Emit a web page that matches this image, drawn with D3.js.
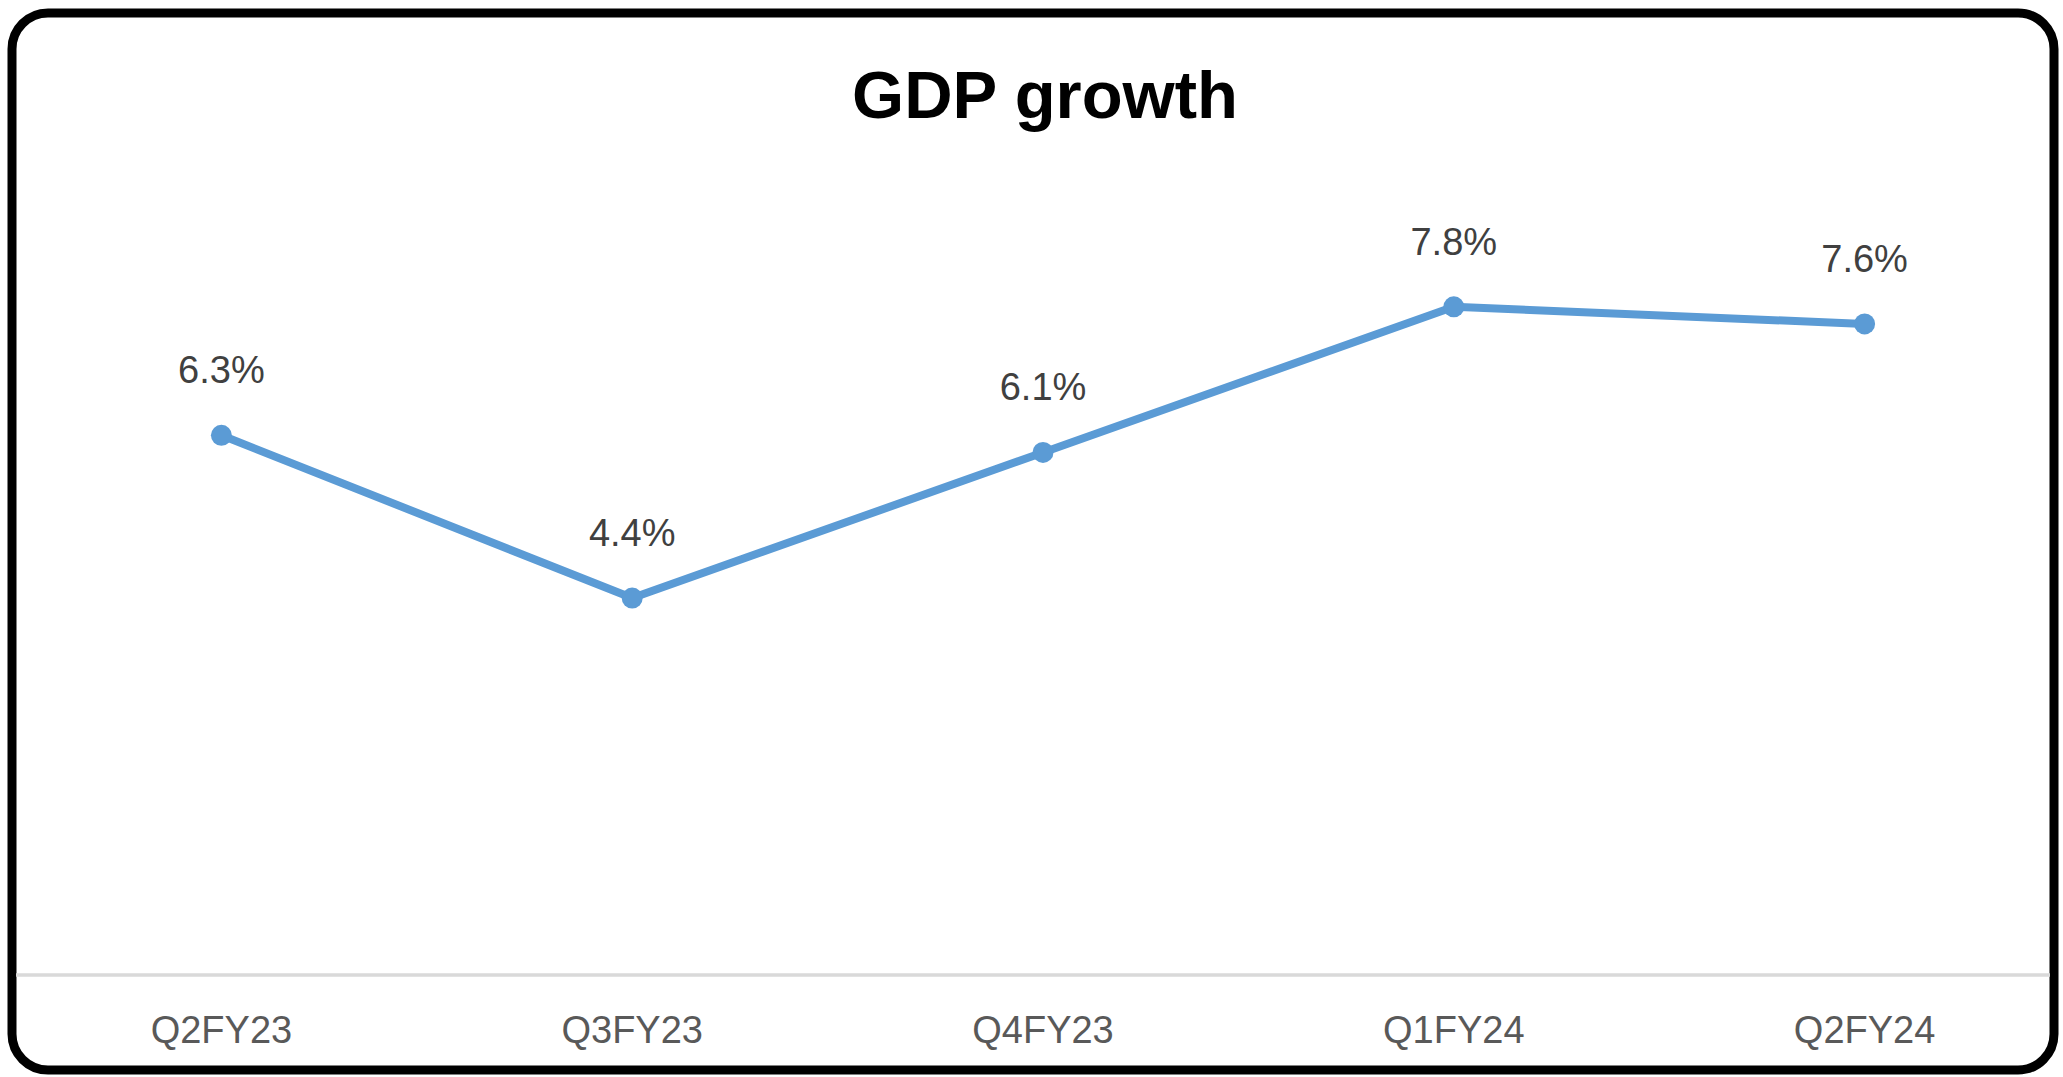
<!DOCTYPE html>
<html>
<head>
<meta charset="utf-8">
<script src="https://cdn.jsdelivr.net/npm/d3@7"></script>
<style>
  html, body { margin: 0; padding: 0; background: #ffffff; }
  svg { display: block; }
</style>
</head>
<body>
<script>
// Quarterly GDP growth, % year on year
const quarters = ["Q2FY23", "Q3FY23", "Q4FY23", "Q1FY24", "Q2FY24"];
const growth = [6.3, 4.4, 6.1, 7.8, 7.6];
const valueLabels = ["6.3%", "4.4%", "6.1%", "7.8%", "7.6%"];
const chartTitle = "GDP growth";

const W = 2063, H = 1077;
const font = "'Liberation Sans', Arial, sans-serif";

const svg = d3.select("body").append("svg")
  .attr("width", W)
  .attr("height", H);

// rounded frame
svg.append("rect")
  .attr("x", 12).attr("y", 13)
  .attr("width", 2042).attr("height", 1057)
  .attr("rx", 36).attr("ry", 36)
  .attr("fill", "#ffffff")
  .attr("stroke", "#000000")
  .attr("stroke-width", 9);

// title
svg.append("text")
  .attr("x", 1045).attr("y", 118)
  .attr("text-anchor", "middle")
  .attr("font-family", font)
  .attr("font-weight", "bold")
  .attr("font-size", 67)
  .attr("fill", "#000000")
  .text(chartTitle);

const x = d3.scaleBand()
  .domain(quarters)
  .range([16, 2070]);

const y = d3.scaleLinear()
  .domain([0, 9])
  .range([975, 204]);

const cx = q => x(q) + x.bandwidth() / 2;

// category axis
const axisG = svg.append("g")
  .attr("transform", `translate(0,${y(0)})`)
  .call(d3.axisBottom(x).tickSize(0).tickPadding(0));
axisG.select(".domain").remove();
axisG.selectAll(".tick text")
  .attr("y", 68)
  .attr("dy", 0)
  .attr("font-family", font)
  .attr("font-size", 38)
  .attr("fill", "#595959");

svg.append("line")
  .attr("x1", 16).attr("x2", 2050)
  .attr("y1", y(0)).attr("y2", y(0))
  .attr("stroke", "#d9d9d9")
  .attr("stroke-width", 3.5);

const pts = quarters.map((q, i) => ({ q, v: growth[i], label: valueLabels[i] }));

// growth line
svg.append("path")
  .datum(pts)
  .attr("fill", "none")
  .attr("stroke", "#5b9bd5")
  .attr("stroke-width", 8)
  .attr("stroke-linejoin", "round")
  .attr("d", d3.line().x(d => cx(d.q)).y(d => y(d.v)));

// markers
svg.append("g").selectAll("circle")
  .data(pts)
  .join("circle")
  .attr("cx", d => cx(d.q))
  .attr("cy", d => y(d.v))
  .attr("r", 10.5)
  .attr("fill", "#5b9bd5");

// value labels
svg.append("g").selectAll("text")
  .data(pts)
  .join("text")
  .attr("x", d => cx(d.q))
  .attr("y", d => y(d.v) - 52)
  .attr("text-anchor", "middle")
  .attr("font-family", font)
  .attr("font-size", 38)
  .attr("fill", "#404040")
  .text(d => d.label);
</script>
</body>
</html>
